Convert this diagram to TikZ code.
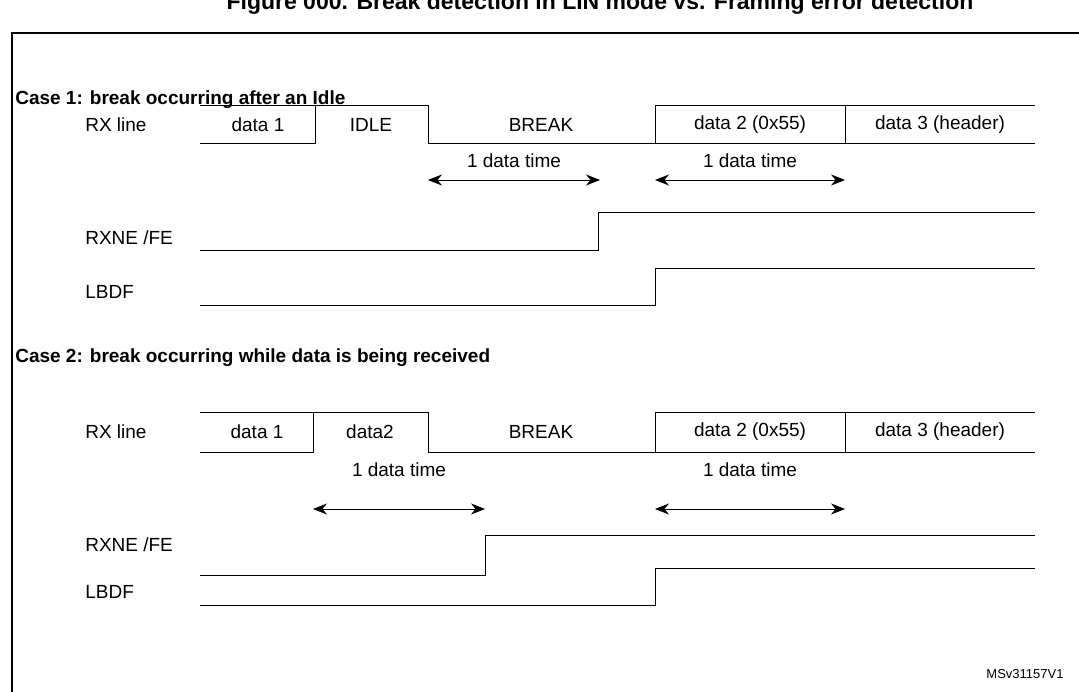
\documentclass[tikz,border=0pt]{standalone}
\usepackage{fontspec}
\setmainfont{Liberation Sans}
\usetikzlibrary{arrows.meta}

\begin{document}
\begin{tikzpicture}[x=1pt,y=-1pt,semithick,
    font=\fontsize{19}{22}\selectfont]
  \tikzstyle{lbl}=[anchor=west,inner sep=0pt]
  \tikzstyle{seg}=[inner sep=0pt]
  \tikzstyle{dt}=[{Stealth[length=14pt,width=11pt]}-{Stealth[length=14pt,width=11pt]},thick]
  \clip (0,0) rectangle (1079,692);
  \useasboundingbox (0,0) rectangle (1079,692);

  \node[seg,font=\fontsize{23}{26}\selectfont\bfseries] (title) at (600,4) {Figure 000. Break detection in LIN mode vs. Framing error detection};
  \draw[line width=1.4pt] (1090,33) -- (12,33) -- (12,700);

  % case 1
  \node[lbl] (case1) at (15,100) {\bfseries Case 1: break occurring after an Idle};
  \node[lbl] (rx1)   at (85,125) {RX line};
  \draw (200,105) -- (315,105) (200,143) -- (315,143) -- (315,105) -- (428,105)
        -- (428,143) -- (655,143) -- (655,105) -- (1035,105)
        (655,143) -- (1035,143) (845,105) -- (845,143);
  \node[seg] (d11) at (258,125) {data 1};
  \node[seg] (idle) at (371,125) {IDLE};
  \node[seg] (brk1) at (541,125) {BREAK};
  \node[seg] (d21) at (750,125) {data 2 (0x55)};
  \node[seg] (d31) at (940,125) {data 3 (header)};
  \coordinate (a1s) at (428,180); \coordinate (a1e) at (600,180);
  \coordinate (b1s) at (655,180); \coordinate (b1e) at (845,180);
  \draw[dt] (a1s) -- node[above=12pt,seg] {1 data time} (a1e);
  \draw[dt] (b1s) -- node[above=12pt,seg] {1 data time} (b1e);
  \node[lbl] (rxne1) at (85,238) {RXNE /FE};
  \draw (200,250) -- (598,250) -- (598,212) -- (1035,212);
  \node[lbl] (lbdf1) at (85,292) {LBDF};
  \draw (200,305) -- (655,305) -- (655,268) -- (1035,268);

  % case 2
  \node[lbl] (case2) at (15,358) {\bfseries Case 2: break occurring while data is being received};
  \node[lbl] (rx2)   at (85,432) {RX line};
  \draw (200,412) -- (313,412) (200,452) -- (313,452) -- (313,412) -- (428,412)
        -- (428,452) -- (655,452) -- (655,412) -- (1035,412)
        (655,452) -- (1035,452) (845,412) -- (845,452);
  \node[seg] (d12) at (257,432) {data 1};
  \node[seg] (d22) at (370,432) {data2};
  \node[seg] (brk2) at (541,432) {BREAK};
  \node[seg] (d23) at (750,432) {data 2 (0x55)};
  \node[seg] (d32) at (940,432) {data 3 (header)};
  \coordinate (a2s) at (313,509); \coordinate (a2e) at (485,509);
  \coordinate (b2s) at (655,509); \coordinate (b2e) at (845,509);
  \draw[dt] (a2s) -- node[above=32pt,seg] {1 data time} (a2e);
  \draw[dt] (b2s) -- node[above=32pt,seg] {1 data time} (b2e);
  \node[lbl] (rxne2) at (85,545) {RXNE /FE};
  \draw (200,575) -- (485,575) -- (485,535) -- (1035,535);
  \node[lbl] (lbdf2) at (85,592) {LBDF};
  \draw (200,605) -- (655,605) -- (655,568) -- (1035,568);

  \node[seg,font=\fontsize{13}{15}\selectfont] (ref) at (1025,674) {MSv31157V1};
\end{tikzpicture}
\end{document}
